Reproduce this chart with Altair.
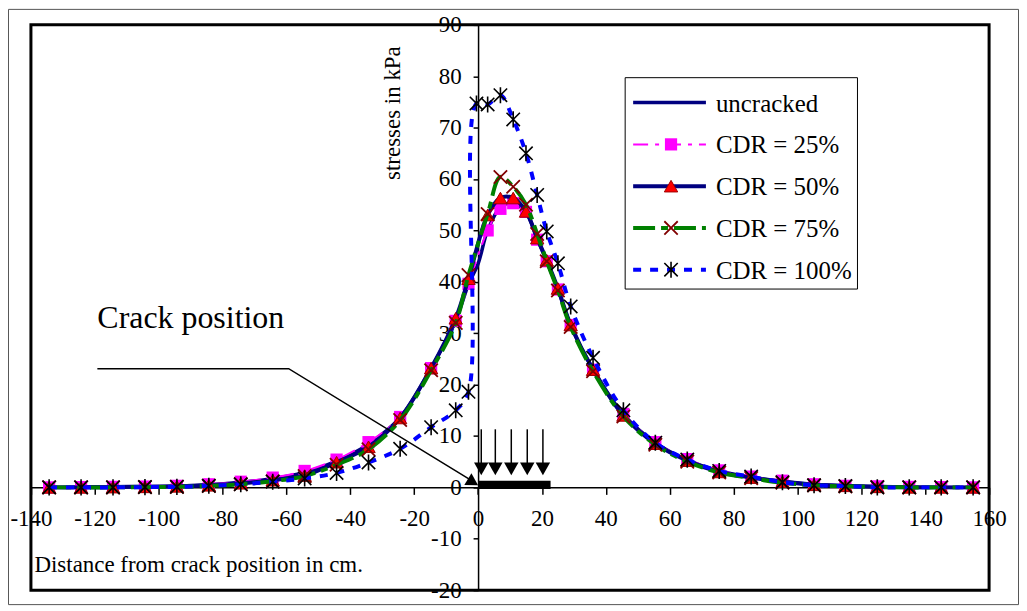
import altair as alt
import pandas as pd

# ---------------- data ----------------
X_LEFT = [-134.3, -124.3, -114.3, -104.3, -94.3, -84.3, -74.3, -64.3, -54.3,
          -44.3, -34.3, -24.4, -14.7, -7, -3]
X_RIGHT = [3, 7, 11, 15, 18.5, 21.5, 25, 29, 36, 45.5, 55.5, 65.5, 75.5, 85.5,
           95.3, 105.2, 115, 125, 135, 145, 155]

UNCR_LEFT = [0.0, 0.05, 0.1, 0.15, 0.25, 0.5, 1.0, 1.7, 2.9, 5.1, 8.4, 13.6, 23.2, 32.5, 39.5]
UNCR_MID_X = [0]
UNCR_MID = [43.5]
UNCR_RIGHT = [50.0, 54.5, 55.3, 53.5, 48.4, 44.0, 38.5, 31.5, 23.0, 14.2, 8.7, 5.3,
              3.2, 2.0, 1.2, 0.6, 0.3, 0.15, 0.05, 0.0, 0.0]

C25_LEFT = [0.0, 0.05, 0.1, 0.15, 0.3, 0.6, 1.1, 1.9, 3.2, 5.4, 8.8, 13.7, 23.2, 32.4, 39.6]
C25_RIGHT = [50.0, 54.2, 55.3, 53.6, 48.2, 44.0, 38.5, 31.6, 22.9, 14.3, 8.8, 5.5,
             3.3, 2.1, 1.3, 0.6, 0.3, 0.2, 0.1, 0.05, 0.0]

C50_LEFT = [0.0, 0.0, 0.05, 0.1, 0.2, 0.4, 0.8, 1.4, 2.3, 4.9, 7.9, 13.5, 23.2, 32.9, 40.6]
C50_RIGHT = [53.0, 56.3, 56.3, 53.7, 48.5, 44.2, 38.7, 31.6, 22.9, 14.0, 8.5, 5.2,
             3.0, 1.9, 1.1, 0.5, 0.3, 0.1, 0.0, 0.0, 0.0]

C75_LEFT = [0.0, 0.0, 0.0, 0.05, 0.1, 0.3, 0.6, 1.2, 2.2, 4.4, 7.4, 13.1, 22.8, 32.0, 41.3]
C75_RIGHT = [53.2, 60.4, 58.5, 55.0, 49.3, 44.0, 38.3, 31.2, 22.6, 13.8, 8.3, 5.0,
             2.9, 1.8, 0.9, 0.4, 0.2, 0.05, 0.0, 0.0, 0.0]

C100_LEFT = [0.0, 0.0, 0.0, 0.05, 0.1, 0.3, 0.6, 1.1, 1.75, 2.8, 4.85, 7.5, 11.7, 15.0, 18.6]
C100_MID_X = [-0.5]
C100_MID = [74.7]
C100_RIGHT = [74.5, 76.3, 71.6, 65.0, 56.9, 49.8, 43.6, 35.2, 25.2, 15.0, 8.7, 5.4,
              3.2, 2.1, 1.0, 0.4, 0.25, 0.0, 0.0, 0.0, 0.0]

LEGEND_LABELS = ["uncracked", "CDR = 25%", "CDR = 50%", "CDR = 75%", "CDR = 100%"]

X_TICKS = list(range(-140, 161, 20))
Y_TICKS = list(range(-20, 91, 10))
X_DOMAIN = [-140, 160]
Y_DOMAIN = [-20, 90]

# annotation: crack pointer and load arrows
CRACK_LINE_X = [-119.2, -59.3, -2.0]
CRACK_LINE_Y = [23.1, 23.1, 1.3]
CRACK_TEXT = "Crack position"
CRACK_TEXT_X = [-119.2]
CRACK_TEXT_Y = [31.0]
LOAD_X = [1.0, 5.4, 10.4, 15.4, 20.3]
LOAD_TOP = 11.3
LOAD_HEAD = 3.6
LOAD_BAR_X = [0, 22.7]
LOAD_BAR_Y = [-0.3, 1.3]

FONT = "Liberation Serif"
W, H = 961, 567

# ---------------- helpers ----------------
def frame(xs, ys):
    return pd.DataFrame({"x": xs, "y": ys})

xsc = alt.Scale(domain=X_DOMAIN, nice=False, zero=False)
ysc = alt.Scale(domain=Y_DOMAIN, nice=False, zero=False)

x_off = -W * (0 - X_DOMAIN[0]) / (X_DOMAIN[1] - X_DOMAIN[0])
y_off = -H * (0 - Y_DOMAIN[0]) / (Y_DOMAIN[1] - Y_DOMAIN[0])

x_axis = alt.Axis(values=X_TICKS, offset=y_off, tickSize=7, labelPadding=13,
                  labelFlush=False, labelOverlap=False, labelExpr="'' + datum.value",
                  labelFont=FONT, labelFontSize=23, labelColor="black",
                  domainColor="black", tickColor="black", domainWidth=1.5, tickWidth=1.5,
                  grid=False, title="Distance from crack position in cm.",
                  titleFont=FONT, titleFontSize=23, titleFontWeight="normal", titleColor="black",
                  titleX=3, titleY=84, titleAlign="left", titleBaseline="alphabetic")
y_axis = alt.Axis(values=Y_TICKS, offset=x_off, tickSize=5, labelPadding=12,
                  labelFlush=False, labelOverlap=False, labelExpr="'' + datum.value",
                  labelFont=FONT, labelFontSize=23, labelColor="black",
                  domainColor="black", tickColor="black", domainWidth=1.5, tickWidth=1.5,
                  grid=False, title="stresses in kPa",
                  titleFont=FONT, titleFontSize=23, titleFontWeight="normal", titleColor="black",
                  titleX=-79, titleY=88, titleAngle=270, titleAlign="center",
                  titleBaseline="alphabetic")

def XE(field="x:Q"):
    return alt.X(field, scale=xsc, axis=x_axis)

def YE(field="y:Q"):
    return alt.Y(field, scale=ysc, axis=y_axis)

STAR = "M-1,-1L1,1M-1,1L1,-1M0,-1.2L0,1.2"
XSHAPE = "M-1,-1L1,1M-1,1L1,-1"

STYLES = [
    dict(color="#000080", width=3.5, dash=None, marker=None),
    dict(color="#FF00FF", width=2, dash=[15, 7, 4, 7],
         marker=dict(shape="square", size=150, fill="#FF00FF", stroke="#FF00FF", sw=0)),
    dict(color="#000080", width=4, dash=None,
         marker=dict(shape="triangle-up", size=180, fill="#FF0000", stroke="#A00000", sw=1)),
    dict(color="#008000", width=4, dash=[22, 6, 7, 6],
         marker=dict(shape=XSHAPE, size=180, fill=None, stroke="#800000", sw=1.8)),
    dict(color="#0000FF", width=4, dash=[8, 9],
         marker=dict(shape=STAR, size=180, fill=None, stroke="#000000", sw=1.6)),
]

def line_layer(df, st):
    kw = dict(color=st["color"], strokeWidth=st["width"], interpolate="catmull-rom")
    if st["dash"]:
        kw["strokeDash"] = st["dash"]
    return alt.Chart(df).mark_line(**kw).encode(x=XE(), y=YE())

def marker_kw(m):
    kw = dict(shape=m["shape"], size=m["size"], stroke=m["stroke"], strokeWidth=m["sw"], opacity=1)
    if m["fill"]:
        kw.update(filled=True, fill=m["fill"], fillOpacity=1)
    else:
        kw.update(filled=False)
    return kw

def point_layer(df, st):
    return alt.Chart(df).mark_point(**marker_kw(st["marker"])).encode(x=XE(), y=YE())

uncr = frame(X_LEFT + UNCR_MID_X + X_RIGHT, UNCR_LEFT + UNCR_MID + UNCR_RIGHT)
c25 = frame(X_LEFT + X_RIGHT, C25_LEFT + C25_RIGHT)
c50 = frame(X_LEFT + X_RIGHT, C50_LEFT + C50_RIGHT)
c75 = frame(X_LEFT + X_RIGHT, C75_LEFT + C75_RIGHT)
c100 = frame(X_LEFT + C100_MID_X + X_RIGHT, C100_LEFT + C100_MID + C100_RIGHT)

layers = [line_layer(uncr, STYLES[0])]
for df, st in [(c25, STYLES[1]), (c50, STYLES[2]), (c75, STYLES[3]), (c100, STYLES[4])]:
    layers.append(line_layer(df, st))
    layers.append(point_layer(df, st))

# load bar and arrows
bar_df = pd.DataFrame({"x": [LOAD_BAR_X[0]], "x2": [LOAD_BAR_X[1]],
                       "y": [LOAD_BAR_Y[0]], "y2": [LOAD_BAR_Y[1]]})
layers.append(alt.Chart(bar_df).mark_rect(color="black").encode(
    x=XE(), x2="x2:Q", y=YE(), y2="y2:Q"))
arrow_df = pd.DataFrame({"x": LOAD_X, "y": [LOAD_TOP] * len(LOAD_X),
                         "y2": [LOAD_HEAD + 1] * len(LOAD_X),
                         "h": [LOAD_HEAD] * len(LOAD_X)})
layers.append(alt.Chart(arrow_df).mark_rule(color="black", strokeWidth=1.5).encode(
    x=XE(), y=YE(), y2="y2:Q"))
layers.append(alt.Chart(arrow_df).mark_point(shape="triangle-down", size=210, filled=True,
                                              fill="black", stroke="black", strokeWidth=0, opacity=1).encode(
    x=XE(), y=YE("h:Q")))

# crack pointer
crack_df = pd.DataFrame({"x": CRACK_LINE_X, "y": CRACK_LINE_Y, "o": list(range(len(CRACK_LINE_X)))})
layers.append(alt.Chart(crack_df).mark_line(color="black", strokeWidth=1.5).encode(
    x=XE(), y=YE(), order="o:Q"))
head_df = pd.DataFrame({"x": [CRACK_LINE_X[-1] + 0.4], "y": [CRACK_LINE_Y[-1] - 0.3]})
layers.append(alt.Chart(head_df).mark_point(shape="triangle-right", size=190, angle=31,
                                             filled=True, fill="black", stroke="black",
                                             strokeWidth=0, opacity=1).encode(x=XE(), y=YE()))
ctext_df = pd.DataFrame({"x": CRACK_TEXT_X, "y": CRACK_TEXT_Y, "t": [CRACK_TEXT]})
layers.append(alt.Chart(ctext_df).mark_text(font=FONT, fontSize=32, align="left",
                                             baseline="alphabetic", color="black").encode(
    x=XE(), y=YE(), text="t:N"))

# ---------------- legend (drawn by hand) ----------------
one = pd.DataFrame({"a": [0]})
LB_X1, LB_X2, LB_Y1, LB_Y2 = 596, 829, 53, 265
LEG_Y0, LEG_DY = 78, 41.9
L_X1, L_X2, L_MX, L_TX = 604, 677, 642, 687

layers.append(alt.Chart(one).mark_rect(fill="white", stroke="black", strokeWidth=1).encode(
    x=alt.value(LB_X1), x2=alt.value(LB_X2), y=alt.value(LB_Y1), y2=alt.value(LB_Y2)))
for i, (lab, st) in enumerate(zip(LEGEND_LABELS, STYLES)):
    yv = LEG_Y0 + i * LEG_DY
    kw = dict(color=st["color"], strokeWidth=st["width"])
    if st["dash"]:
        kw["strokeDash"] = st["dash"]
    layers.append(alt.Chart(one).mark_rule(**kw).encode(
        x=alt.value(L_X1), x2=alt.value(L_X2), y=alt.value(yv)))
    if st["marker"]:
        layers.append(alt.Chart(one).mark_point(**marker_kw(st["marker"])).encode(
            x=alt.value(L_MX), y=alt.value(yv)))
    layers.append(alt.Chart(one).mark_text(text=lab, font=FONT, fontSize=25, align="left",
                                           baseline="middle", color="black").encode(
        x=alt.value(L_TX), y=alt.value(yv + 1)))

# outer thin border
layers.append(alt.Chart(one).mark_rect(fill="transparent", stroke="#555555", strokeWidth=1).encode(
    x=alt.value(-22.5), x2=alt.value(990.5), y=alt.value(-15.5), y2=alt.value(581.5)))

chart = alt.layer(*layers).properties(
    width=W, height=H,
    padding={"left": 23, "top": 16, "right": 30, "bottom": 15},
    autosize=alt.AutoSizeParams(type="none"),
    background="white",
).configure_view(stroke="black", strokeWidth=3)

chart.save("out.html", embed_options={"renderer": "svg", "actions": False})
